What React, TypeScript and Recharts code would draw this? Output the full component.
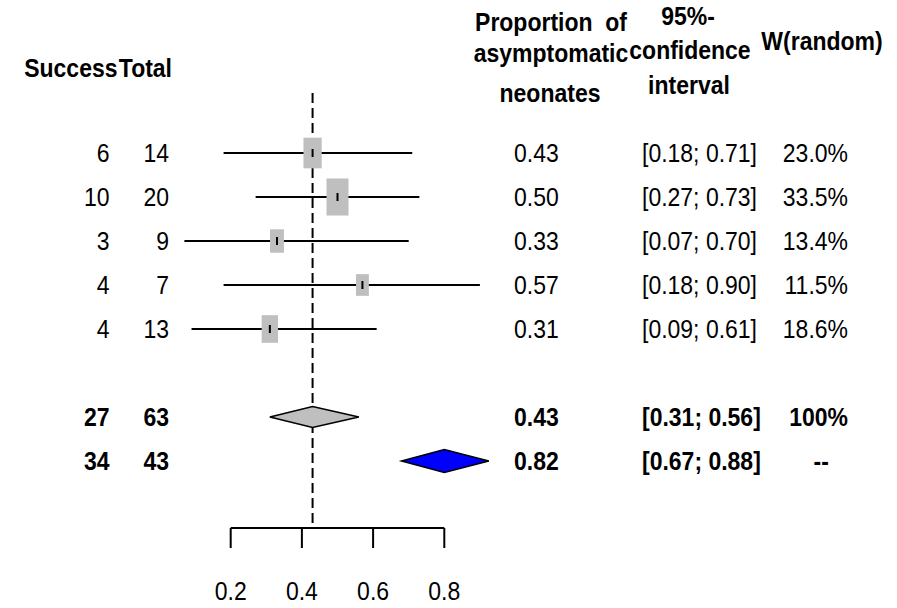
import React from 'react';
import { ComposedChart, Scatter, XAxis, YAxis, ErrorBar } from 'recharts';

// study level data
const successes = [6, 10, 3, 4, 4];
const totals = [14, 20, 9, 7, 13];
const proportions = [0.43, 0.5, 0.33, 0.57, 0.31];
const lowers = [0.18, 0.27, 0.07, 0.18, 0.09];
const uppers = [0.71, 0.73, 0.7, 0.9, 0.61];
const weights = [23.0, 33.5, 13.4, 11.5, 18.6];

// random effects summary
const pooledCounts = [27, 63];
const pooledEst = 0.43;
const pooledCi = [0.31, 0.56];

// comparison row (blue diamond)
const extCounts = [34, 43];
const extEst = 0.82;
const extCi = [0.67, 0.88];
const extDiamond = [0.68, 0.8, 0.925]; // drawn lower / centre / upper

const axisTicks = [0.2, 0.4, 0.6, 0.8];

const FONT = '"Liberation Sans", Arial, Helvetica, sans-serif';
const FS = 23;
const SY = 1.1; // text in the original is a little taller than wide

// axis ranges (value axis, row axis, pixel helpers)
const X_MIN = -0.448;
const X_MAX = 2.0716;
const Y_MIN = -2.4773;
const Y_MAX = 9.5227;
const W = 897;
const H = 608;
const AXIS_H = 80;

const POOLED_ROW = 7;
const EXT_ROW = 8;
const DASH_TOP = -0.364;

const COL = { success: 109.5, total: 169, prop: 514, ci: 642, weight: 848 };

const f2 = (v: number) => v.toFixed(2);
const ciLabel = (lo: number, hi: number) => `[${f2(lo)}; ${f2(hi)}]`;

const studies = proportions.map((p, i) => ({
  x: p,
  y: i + 1,
  ci: [p - lowers[i], uppers[i] - p],
  w: weights[i],
}));

type TRow = { row: number; bold: boolean; cells: string[] };
const tableRows: TRow[] = [
  ...successes.map((s, i) => ({
    row: i + 1,
    bold: false,
    cells: [String(s), String(totals[i]), f2(proportions[i]), ciLabel(lowers[i], uppers[i]), `${weights[i].toFixed(1)}%`],
  })),
  {
    row: POOLED_ROW,
    bold: true,
    cells: [String(pooledCounts[0]), String(pooledCounts[1]), f2(pooledEst), ciLabel(pooledCi[0], pooledCi[1]), '100%'],
  },
  {
    row: EXT_ROW,
    bold: true,
    cells: [String(extCounts[0]), String(extCounts[1]), f2(extEst), ciLabel(extCi[0], extCi[1]), '--\u00a0\u00a0\u00a0'],
  },
];

const columns = [
  { x: COL.success, anchor: 'end' },
  { x: COL.total, anchor: 'end' },
  { x: COL.prop, anchor: 'start' },
  { x: COL.ci, anchor: 'start' },
  { x: COL.weight, anchor: 'end' },
];

const headerLines = [
  { x: 117.5, y: 77, label: 'Success', anchor: 'end' },
  { x: 172, y: 77, label: 'Total', anchor: 'end' },
  { x: 551, y: 31, label: 'Proportion\u00a0\u00a0of', anchor: 'middle' },
  { x: 551, y: 62, label: 'asymptomatic', anchor: 'middle' },
  { x: 550, y: 102, label: 'neonates', anchor: 'middle' },
  { x: 688, y: 25, label: '95%-', anchor: 'middle' },
  { x: 690, y: 59, label: 'confidence', anchor: 'middle' },
  { x: 689, y: 94, label: 'interval', anchor: 'middle' },
  { x: 822, y: 50, label: 'W(random)', anchor: 'middle' },
];

const diamond = (lo: number, mid: number, hi: number, row: number, half: number) => [
  { x: lo, y: row },
  { x: mid, y: row - half },
  { x: hi, y: row },
  { x: mid, y: row + half },
];

const pooledDiamond = diamond(pooledCi[0], pooledEst, pooledCi[1], POOLED_ROW, 0.24);
const extDiamondPts = diamond(extDiamond[0], extDiamond[1], extDiamond[2], EXT_ROW, 0.26);
const dashPts = [
  { x: pooledEst, y: DASH_TOP },
  { x: pooledEst, y: Y_MAX },
];
const axisPts = [
  { x: axisTicks[0], y: Y_MAX },
  { x: axisTicks[axisTicks.length - 1], y: Y_MAX },
];

const none = () => <g />;

const polygon = (fill: string) => (lp: any) => (
  <polygon
    points={(lp.points || []).map((p: any) => `${p.x},${p.y}`).join(' ')}
    fill={fill}
    stroke="#000"
    strokeWidth={1.5}
  />
);

const polyline = (dash?: string) => (lp: any) => (
  <polyline
    points={(lp.points || []).map((p: any) => `${p.x},${p.y}`).join(' ')}
    fill="none"
    stroke="#000"
    strokeWidth={2}
    strokeDasharray={dash}
  />
);

const square = (p: any) => {
  const s = Math.sqrt(p.payload.w);
  const w = 3.8 * s;
  const h = 6.4 * s;
  return (
    <g>
      <rect x={p.cx - w / 2} y={p.cy - h / 2} width={w} height={h} fill="#bfbfbf" />
      <line x1={p.cx} x2={p.cx} y1={p.cy - 4} y2={p.cy + 4} stroke="#000" strokeWidth={2} />
    </g>
  );
};

// text drawn at (x, baseline), stretched a touch vertically
const Label = ({ x, y, anchor, bold, children }: any) => (
  <text
    transform={`translate(${x},${y}) scale(1,${SY})`}
    textAnchor={anchor}
    fontFamily={FONT}
    fontSize={FS}
    fontWeight={bold ? 'bold' : 'normal'}
    fill="#000"
  >
    {children}
  </text>
);

const cellText = (anchor: string) => (p: any) => (
  <Label x={p.cx} y={p.cy + 8.5} anchor={anchor} bold={p.payload.bold}>
    {p.payload.label}
  </Label>
);

const headerText = (p: any) => (
  <Label x={p.cx} y={p.cy} anchor={p.payload.anchor} bold>
    {p.payload.label}
  </Label>
);

const AxisTick = (p: any) => (
  <Label x={p.x} y={p.y + 16.5 * SY} anchor="middle">
    {Number(p.payload.value).toFixed(1)}
  </Label>
);

const ForestPlot: React.FC = () => {
  return (
    <ComposedChart width={W} height={H} margin={{ top: 0, right: 0, bottom: 0, left: 0 }}>
      <XAxis
        xAxisId="val"
        type="number"
        dataKey="x"
        domain={[X_MIN, X_MAX]}
        ticks={axisTicks}
        interval={0}
        axisLine={false}
        tickLine={{ stroke: '#000', strokeWidth: 2 }}
        tickSize={20}
        tickMargin={34}
        height={AXIS_H}
        tick={<AxisTick />}
      />
      <XAxis xAxisId="px" type="number" dataKey="x" domain={[0, W]} height={0} hide />
      <YAxis yAxisId="row" type="number" dataKey="y" domain={[Y_MIN, Y_MAX]} width={0} reversed hide />
      <YAxis yAxisId="px" type="number" dataKey="y" domain={[0, H - AXIS_H]} width={0} reversed hide />

      <Scatter xAxisId="val" yAxisId="row" data={axisPts} line={polyline()} shape={none} isAnimationActive={false} />
      <Scatter xAxisId="val" yAxisId="row" data={dashPts} line={polyline('10 5')} shape={none} isAnimationActive={false} />

      <Scatter xAxisId="val" yAxisId="row" data={studies} shape={square} isAnimationActive={false}>
        <ErrorBar dataKey="ci" direction="x" width={0} stroke="#000" strokeWidth={2} isAnimationActive={false} />
      </Scatter>

      <Scatter xAxisId="val" yAxisId="row" data={pooledDiamond} line={polygon('#bfbfbf')} shape={none} isAnimationActive={false} />
      <Scatter xAxisId="val" yAxisId="row" data={extDiamondPts} line={polygon('#0000ff')} shape={none} isAnimationActive={false} />

      {columns.map((c, ci) => (
        <Scatter
          key={ci}
          xAxisId="px"
          yAxisId="row"
          data={tableRows.map((r) => ({ x: c.x, y: r.row, label: r.cells[ci], bold: r.bold }))}
          shape={cellText(c.anchor)}
          isAnimationActive={false}
        />
      ))}

      <Scatter xAxisId="px" yAxisId="px" data={headerLines} shape={headerText} isAnimationActive={false} />
    </ComposedChart>
  );
};

const App: React.FC = () => (
  <div style={{ position: 'absolute', left: 0, top: 0, width: W, height: H, background: '#fff' }}>
    <ForestPlot />
  </div>
);

export default App;
